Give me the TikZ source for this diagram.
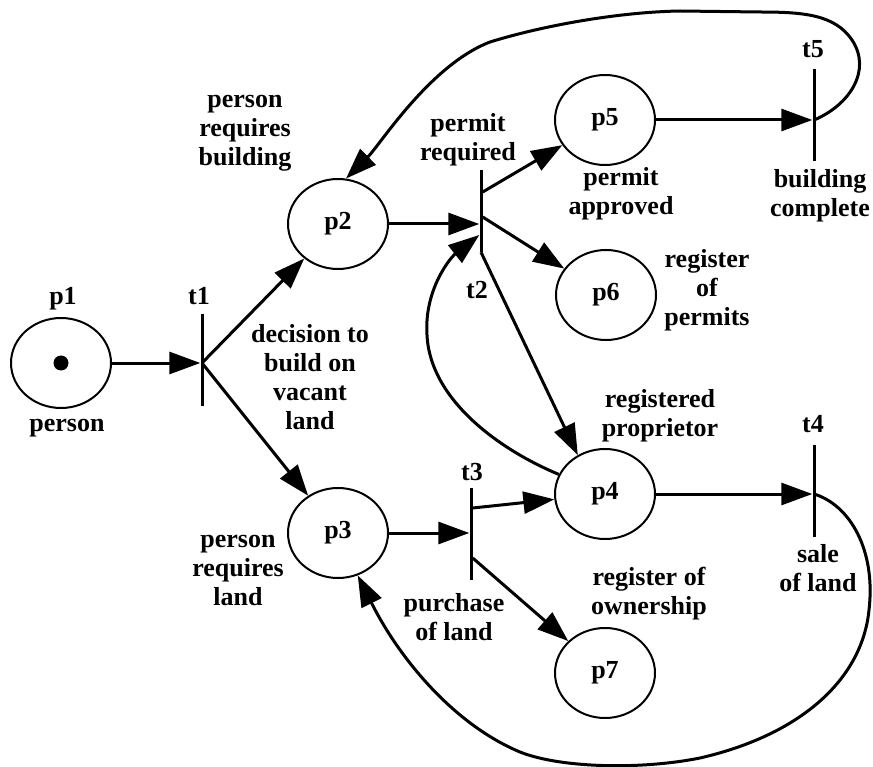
\documentclass[tikz,border=0pt]{standalone}
\usepackage{fontspec}
\setmainfont{Liberation Serif}
\usepackage{tikz}
\usetikzlibrary{arrows.meta,shapes.geometric}

\begin{document}
\begin{tikzpicture}[x=1pt,y=-1pt]
\tikzset{every node/.style = {font=\bfseries\fontsize{26}{29}\selectfont}}
\tikzset{place/.style = {shape=ellipse,draw,line width=2pt,minimum width=100pt,minimum height=90pt,inner sep=0pt}}
\tikzset{trans/.style = {shape=rectangle,fill,inner sep=0pt,minimum width=3pt,minimum height=92pt}}
\tikzset{token/.style = {shape=circle,fill,inner sep=0pt,minimum size=15pt}}
\tikzset{lbl/.style = {align=center,inner sep=0pt}}
\tikzset{flow/.style = {-{Triangle[length=31pt,width=22pt]},line width=3pt}}
\useasboundingbox (0,0) rectangle (873,767);
% places
\node[place] (p1) at (61,363) {};
\node[token] (m1) at (p1) {};
\node[place] (p2) at (338,224) {p2};
\node[place] (p3) at (338,533) {p3};
\node[place] (p4) at (605,494) {p4};
\node[place] (p5) at (605,120) {p5};
\node[place] (p6) at (606,295) {p6};
\node[place] (p7) at (605,673) {p7};
% transitions
\node[trans] (t1) at (202,360) {};
\node[trans,minimum height=82pt] (t2) at (481,211) {};
\node[trans] (t3) at (471,534) {};
\node[trans] (t4) at (814,491) {};
\node[trans] (t5) at (814,115) {};
% names
\node (lp1) at (63,299) {p1};
\node (lt1) at (199,296) {t1};
\node (lt2) at (477,290) {t2};
\node (lt3) at (472,472) {t3};
\node (lt4) at (813,424) {t4};
\node (lt5) at (813,49) {t5};
% labels
\node[lbl] (dp1) at (67,428) {person};
\node[lbl] (dp2) at (245,133) {person\\requires\\building};
\node[lbl] (dp3) at (238,570) {person\\requires\\land};
\node[lbl] (dt1) at (310,377) {decision to\\build on\\vacant\\land};
\node[lbl] (dt2) at (468,140) {permit\\required};
\node[lbl] (dp5) at (621,194) {permit\\approved};
\node[lbl] (dp6) at (707,290) {register\\of\\permits};
\node[lbl] (dt5) at (820,196) {building\\complete};
\node[lbl] (dp4) at (660,416) {registered\\proprietor};
\node[lbl] (dt3) at (454,617) {purchase\\of land};
\node[lbl] (dp7) at (649,594) {register of\\ownership};
\node[lbl] (dt4) at (818,568) {sale\\of land};
%edges
\draw[flow] (p1) -- (p1 -| t1.west);
\draw[flow] (p1 -| t1) -- (p2);
\draw[flow] (p1 -| t1) -- (p3);
\draw[flow] (p2) -- (p2 -| t2.west);
\draw[flow] ([yshift=19pt]t2.east) -- (p5);
\draw[flow] ([yshift=-6pt]t2.east) -- (p6);
\draw[flow] (t2.south) -- (p4.125);
\draw[flow] (p4.157) .. controls (500,450) and (430,400) .. (427,335)
  .. controls (424,290) and (450,258) .. ([yshift=-24pt]t2.west);
\draw[flow] (p3) -- (p3 -| t3.west);
\draw[flow] ([yshift=26pt]t3.east) -- (p4);
\draw[flow] ([yshift=-24pt]t3.east) -- (p7);
\draw[flow] (p4) -- (p4 -| t4.west);
\draw[flow] (p5) -- (p5 -| t5.west);
% loops back
\draw[flow] (p5 -| t5) .. controls (850,105) and (872,70) .. (852,40)
  .. controls (835,15) and (805,12) .. (760,12) -- (680,11)
  .. controls (620,12) and (545,25) .. (490,42)
  .. controls (430,65) and (380,145) .. (p2.80);
\draw[flow] (p4 -| t4) .. controls (850,505) and (876,550) .. (869,610)
  .. controls (862,680) and (800,735) .. (700,758)
  .. controls (640,770) and (560,768) .. (520,752)
  .. controls (455,725) and (400,660) .. (p3.-65);
\end{tikzpicture}
\end{document}
